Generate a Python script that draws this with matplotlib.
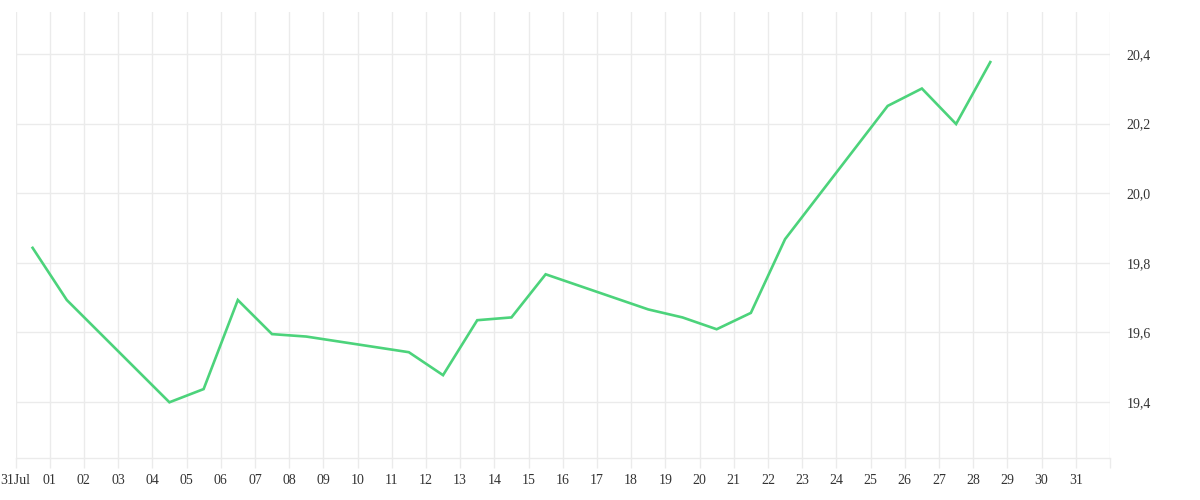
import matplotlib
matplotlib.use("Agg")
import matplotlib.pyplot as plt
import matplotlib.dates as mdates
import numpy as np
import pandas as pd

# Trading days (noon timestamps), weekends absent
dates = [
    "2025-07-31", "2025-08-01", "2025-08-04", "2025-08-05", "2025-08-06",
    "2025-08-07", "2025-08-08", "2025-08-11", "2025-08-12", "2025-08-13",
    "2025-08-14", "2025-08-15", "2025-08-18", "2025-08-19", "2025-08-20",
    "2025-08-21", "2025-08-22", "2025-08-25", "2025-08-26", "2025-08-27",
    "2025-08-28",
]
values = [
    19.843, 19.693, 19.399, 19.437, 19.693,
    19.595, 19.588, 19.543, 19.477, 19.635,
    19.643, 19.767, 19.666, 19.643, 19.609,
    19.656, 19.868, 20.251, 20.301, 20.199,
    20.377,
]
y_ticks = [19.4, 19.6, 19.8, 20.0, 20.2, 20.4]

x = pd.to_datetime(dates) + pd.Timedelta(hours=12)

plt.rcParams["font.family"] = ["Liberation Serif", "DejaVu Serif"]

grid_color = "#ebebeb"
line_color = "#4cd37b"

fig = plt.figure(figsize=(12, 5), dpi=100)
ax = fig.add_axes([15.5 / 1200, 41.7 / 500, (1110 - 15.5) / 1200, (458.3 - 12) / 500])

ax.plot(x, values, color=line_color, linewidth=1.9, solid_joinstyle="miter")

start = pd.Timestamp("2025-07-31")
end = pd.Timestamp("2025-09-01")
ax.set_xlim(start, end)
ax.set_ylim(19.238, 20.521)

tick_days = pd.date_range(start, end, freq="D")
ax.set_xticks(tick_days)
labels = []
for i, d in enumerate(tick_days):
    if i == 0:
        labels.append("31Jul")
    elif d == end:
        labels.append("")
    else:
        labels.append(d.strftime("%d"))
ax.set_xticklabels(labels)

ax.set_yticks(y_ticks)
ax.set_yticklabels([f"{v:.1f}".replace(".", ",") for v in y_ticks])
ax.yaxis.tick_right()

ax.grid(True, color=grid_color, linewidth=1)
ax.set_axisbelow(True)
for side in ["top", "left", "right"]:
    ax.spines[side].set_visible(False)
ax.spines["bottom"].set_color(grid_color)
ax.spines["bottom"].set_linewidth(1)

ax.tick_params(axis="x", length=7.5, width=1, color=grid_color, labelsize=10,
               labelcolor="#333333", pad=4)
ax.tick_params(axis="y", length=0, labelsize=10, labelcolor="#333333", pad=12)
for lbl in ax.get_yticklabels():
    lbl.set_horizontalalignment("left")

fig.savefig("out.png", dpi=100, facecolor="white")
